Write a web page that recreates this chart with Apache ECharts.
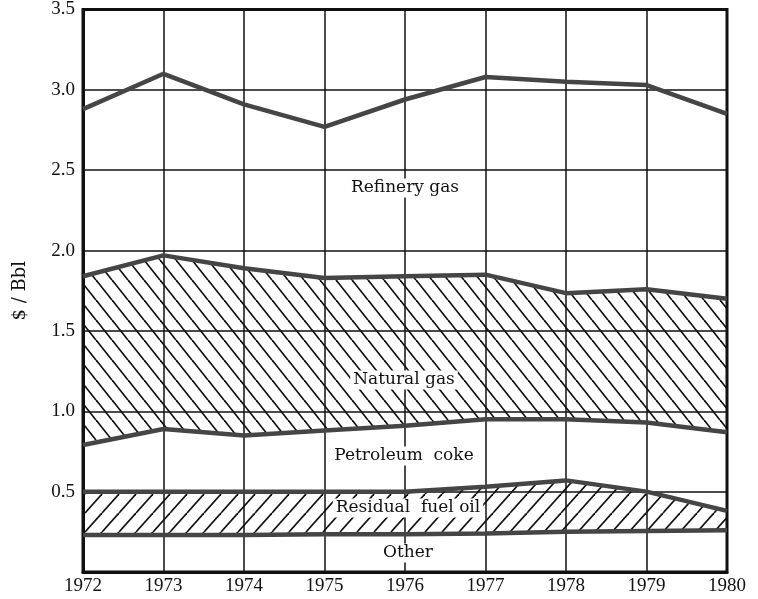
<!DOCTYPE html>
<html>
<head>
<meta charset="utf-8">
<script src="https://cdn.jsdelivr.net/npm/echarts@6/dist/echarts.min.js"></script>
<style>
  html, body { margin: 0; padding: 0; background: #fff; }
  #chart { width: 758px; height: 599px; }
</style>
</head>
<body>
<div id="chart"></div>
<script>
// years on the x axis
var years = ['1972', '1973', '1974', '1975', '1976', '1977', '1978', '1979', '1980'];

// $/Bbl by fuel, stacked from the bottom up
var other        = [0.23, 0.23, 0.23, 0.235, 0.235, 0.24, 0.25, 0.255, 0.26];
var residualOil  = [0.27, 0.27, 0.27, 0.265, 0.265, 0.29, 0.32, 0.245, 0.12];
var petroleumCoke = [0.29, 0.39, 0.35, 0.38, 0.41, 0.42, 0.38, 0.43, 0.49];
var naturalGas   = [1.05, 1.08, 1.04, 0.95, 0.93, 0.90, 0.785, 0.83, 0.83];
var refineryGas  = [1.04, 1.13, 1.02, 0.94, 1.10, 1.23, 1.315, 1.27, 1.15];

var yTicks = [0.5, 1.0, 1.5, 2.0, 2.5, 3.0, 3.5];

var INK = '#111';
var EDGE = '#454545';
var SERIF = '"DejaVu Serif", "Liberation Serif", serif';
var TICKFONT = '"Liberation Serif", serif';

// diagonal hatch tiles
function hatch(w, h, back) {
    var c = document.createElement('canvas');
    c.width = w; c.height = h;
    var ctx = c.getContext('2d');
    ctx.strokeStyle = INK;
    ctx.lineWidth = 1.7;
    for (var k = -1; k <= 1; k++) {
        ctx.beginPath();
        if (back) {
            ctx.moveTo(k * w, 0);
            ctx.lineTo(k * w + w, h);
        } else {
            ctx.moveTo(k * w + w, 0);
            ctx.lineTo(k * w, h);
        }
        ctx.stroke();
    }
    return { image: c, repeat: 'repeat' };
}

function band(name, values, fill) {
    var s = {
        name: name,
        type: 'line',
        stack: 'total',
        data: values,
        symbol: 'none',
        smooth: false,
        lineStyle: { color: EDGE, width: 4.5 },
        silent: true
    };
    if (fill) s.areaStyle = { color: fill, opacity: 1 };
    return s;
}

function label(text, x, y) {
    return {
        type: 'text',
        x: x, y: y,
        z: 100,
        style: {
            text: text,
            fill: INK,
            font: '17px ' + SERIF,
            align: 'center',
            verticalAlign: 'middle',
            backgroundColor: '#fff',
            padding: [1, 3]
        }
    };
}

var chart = echarts.init(document.getElementById('chart'));

chart.setOption({
    animation: false,
    backgroundColor: '#fff',
    grid: {
        left: 83, right: 31, top: 7, bottom: 27,
        show: true,
        borderColor: INK,
        borderWidth: 3,
        containLabel: false
    },
    xAxis: {
        type: 'category',
        data: years,
        boundaryGap: false,
        axisLine: { show: true, lineStyle: { color: INK, width: 3 } },
        axisTick: { show: false },
        axisLabel: {
            color: INK, fontFamily: TICKFONT, fontSize: 19,
            margin: 5, interval: 0
        },
        splitLine: { show: true, lineStyle: { color: INK, width: 1.5 } }
    },
    yAxis: {
        type: 'value',
        min: 0, max: 3.5, interval: 0.5,
        name: '$ / Bbl',
        nameLocation: 'middle',
        nameGap: 54,
        nameTextStyle: { color: INK, fontFamily: SERIF, fontSize: 18 },
        axisLine: { show: true, lineStyle: { color: INK, width: 3 } },
        axisTick: { show: false },
        axisLabel: {
            color: INK, fontFamily: TICKFONT, fontSize: 19,
            margin: 8,
            formatter: function (v) {
                return yTicks.indexOf(v) >= 0 ? v.toFixed(1) : '';
            }
        },
        splitLine: { show: true, lineStyle: { color: INK, width: 1.5 } }
    },
    series: [
        band('Other', other, null),
        band('Residual fuel oil', residualOil, hatch(17, 19, false)),
        band('Petroleum coke', petroleumCoke, null),
        band('Natural gas', naturalGas, hatch(16, 20, true)),
        band('Refinery gas', refineryGas, null)
    ],
    graphic: [
        label('Refinery gas', 405, 188),
        label('Natural gas', 404, 380),
        label('Petroleum  coke', 404, 456),
        label('Residual  fuel oil', 408, 508),
        label('Other', 408, 553)
    ]
});

window.addEventListener('resize', function () {
    chart.resize();
});
</script>
</body>
</html>
